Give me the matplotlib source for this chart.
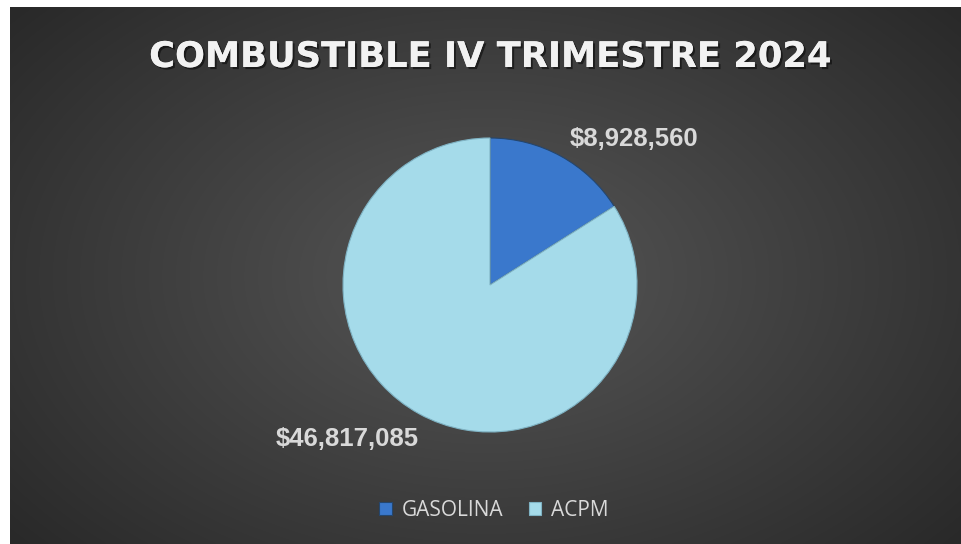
import numpy as np
import matplotlib.pyplot as plt
import matplotlib.patheffects as pe

# Data
categories = ["GASOLINA", "ACPM"]
values = [8928560, 46817085]
colors = ["#3a78cc", "#a5dbea"]
title = "COMBUSTIBLE IV TRIMESTRE 2024"

W, H = 961, 544
fig = plt.figure(figsize=(W / 100, H / 100), dpi=100)
fig.patch.set_facecolor("white")

# Radial gradient background (leaves a thin white margin top/left)
bg = fig.add_axes([10 / W, 0, (W - 10) / W, (H - 7) / H])
yy, xx = np.mgrid[0:300, 0:500]
cx, cy = 250, 150
d = np.sqrt(((xx - cx) / 330.0) ** 2 + ((yy - cy) / 230.0) ** 2)
d = np.clip(d, 0, 1)
shade = 0.34 - 0.18 * d
img = np.dstack([shade, shade, shade])
bg.imshow(img, aspect="auto", extent=[0, 1, 0, 1], interpolation="bilinear")
bg.axis("off")

fig.text(490 / W, 1 - 57 / H, title, ha="center", va="center",
         fontsize=25.4, fontweight="bold", family="DejaVu Sans", color="#f2f2f2",
         path_effects=[pe.withSimplePatchShadow(offset=(1.5, -1.5), shadow_rgbFace="black", alpha=0.5),
                       pe.Normal()])

# Pie
R = 147
ax = fig.add_axes([(490 - R) / W, (H - 285 - R) / H, 2 * R / W, 2 * R / H])
labels = [f"${v:,.0f}" for v in values]
wedges, texts = ax.pie(values, colors=colors, startangle=90, counterclock=False,
                       labels=labels, labeldistance=1.3,
                       wedgeprops=dict(edgecolor="#24466e", linewidth=0.8),
                       textprops=dict(color="#d9d9d9", fontsize=18.5, fontweight="bold",
                                      family="Liberation Sans"))
wedges[1].set_edgecolor("#7fb3c4")
texts[0].set_position((0.98, 0.99))
texts[0].set_ha("center")
texts[0].set_va("center")
texts[1].set_position((-0.97, -1.05))
texts[1].set_ha("center")
texts[1].set_va("center")
ax.set_xlim(-1, 1)
ax.set_ylim(-1, 1)
ax.set_aspect("equal")
ax.axis("off")

leg = fig.legend(wedges, categories, loc="center", bbox_to_anchor=(494 / W, 1 - 510 / H),
                 ncol=2, frameon=False, handlelength=0.6, handleheight=0.6,
                 handletextpad=0.5, columnspacing=1.2,
                 prop=dict(family="Open Sans", size=15))
for t in leg.get_texts():
    t.set_color("#d9d9d9")

fig.savefig("out.png", dpi=100, facecolor=fig.get_facecolor())
